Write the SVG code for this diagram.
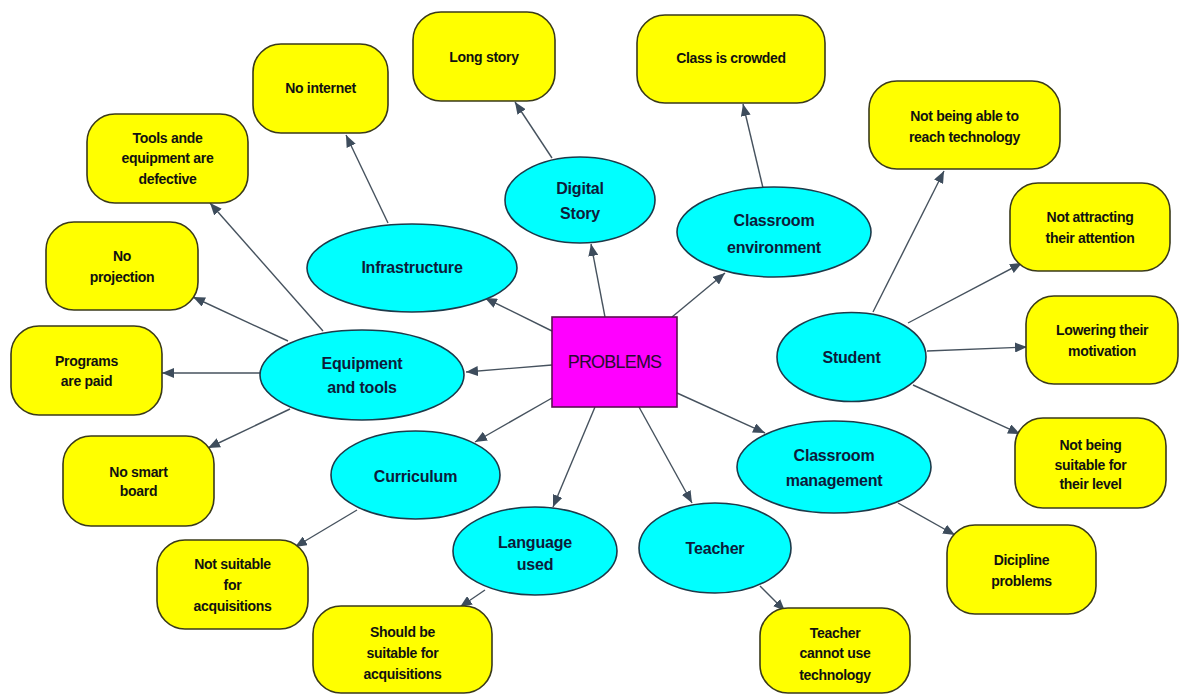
<svg xmlns="http://www.w3.org/2000/svg" width="1179" height="695" viewBox="0 0 1179 695">
<style>
.box{fill:#FFFF00;stroke:#3a3a1a;stroke-width:1.6}
.ell{fill:#00FFFF;stroke:#1d3a4a;stroke-width:1.6}
.core{fill:#FF00FF;stroke:#5a1050;stroke-width:1.6}
.bt{font-family:"Liberation Sans",Arial,sans-serif;font-weight:bold;font-size:14px;fill:#111;text-anchor:middle;letter-spacing:-0.3px}
.et{font-family:"Liberation Sans",Arial,sans-serif;font-weight:bold;font-size:16px;fill:#0d1b3a;text-anchor:middle;letter-spacing:-0.2px}
.ct{font-family:"Liberation Sans",Arial,sans-serif;font-size:18px;fill:#2a0a30;text-anchor:middle;letter-spacing:-0.8px}
.conn line{stroke:#46525e;stroke-width:1.4;marker-end:url(#arr)}
</style>
<defs>
<marker id="arr" viewBox="0 0 12 10" refX="12" refY="5" markerWidth="12" markerHeight="10" markerUnits="userSpaceOnUse" orient="auto">
<path d="M0,0 L12,5 L0,10 z" fill="#3d4c5c"/>
</marker>
</defs>
<rect width="1179" height="695" fill="#ffffff"/>
<g id="connectors" class="conn">
<line x1="552" y1="331" x2="485" y2="298"/>
<line x1="605" y1="317" x2="591" y2="244"/>
<line x1="672" y1="317" x2="725" y2="273"/>
<line x1="552" y1="365" x2="466" y2="372"/>
<line x1="552" y1="398" x2="475" y2="442"/>
<line x1="595" y1="407" x2="553" y2="507"/>
<line x1="639" y1="407" x2="692" y2="503"/>
<line x1="677" y1="393" x2="765" y2="433"/>
<line x1="388" y1="223" x2="346" y2="135"/>
<line x1="552" y1="158" x2="515" y2="102"/>
<line x1="763" y1="188" x2="743" y2="104"/>
<line x1="323" y1="331" x2="210" y2="203"/>
<line x1="288" y1="341" x2="193" y2="297"/>
<line x1="260" y1="373" x2="162" y2="373"/>
<line x1="290" y1="409" x2="208" y2="448"/>
<line x1="357" y1="510" x2="295" y2="547"/>
<line x1="485" y1="590" x2="460" y2="607"/>
<line x1="760" y1="586" x2="785" y2="611"/>
<line x1="898" y1="503" x2="955" y2="535"/>
<line x1="873" y1="312" x2="944" y2="171"/>
<line x1="908" y1="323" x2="1022" y2="263"/>
<line x1="927" y1="351" x2="1027" y2="347"/>
<line x1="913" y1="385" x2="1020" y2="434"/>
</g>
<g id="problems"><rect class="core" x="552" y="317" width="125" height="90"/><text class="ct" x="614.5" y="368">PROBLEMS</text></g>
<g id="digital-story"><ellipse class="ell" cx="580" cy="200" rx="75" ry="43"/><text class="et" x="580" y="194">Digital</text><text class="et" x="580" y="219">Story</text></g>
<g id="classroom-environment"><ellipse class="ell" cx="774" cy="232" rx="97" ry="45"/><text class="et" x="774" y="226">Classroom</text><text class="et" x="774" y="253">environment</text></g>
<g id="infrastructure"><ellipse class="ell" cx="412" cy="268" rx="105" ry="44"/><text class="et" x="412" y="273">Infrastructure</text></g>
<g id="equipment-tools"><ellipse class="ell" cx="362" cy="375" rx="102" ry="45"/><text class="et" x="362" y="369">Equipment</text><text class="et" x="362" y="393">and tools</text></g>
<g id="curriculum"><ellipse class="ell" cx="415.5" cy="475" rx="84.5" ry="44"/><text class="et" x="415.5" y="482">Curriculum</text></g>
<g id="language-used"><ellipse class="ell" cx="535" cy="551" rx="82" ry="44"/><text class="et" x="535" y="548">Language</text><text class="et" x="535" y="570">used</text></g>
<g id="teacher"><ellipse class="ell" cx="715" cy="548" rx="76" ry="45"/><text class="et" x="715" y="554">Teacher</text></g>
<g id="classroom-management"><ellipse class="ell" cx="834" cy="467" rx="97" ry="46"/><text class="et" x="834" y="461">Classroom</text><text class="et" x="834" y="486">management</text></g>
<g id="student"><ellipse class="ell" cx="851.5" cy="357" rx="74.5" ry="44.5"/><text class="et" x="851.5" y="363">Student</text></g>
<g id="no-internet"><rect class="box" x="253" y="44" width="135" height="89" rx="28"/><text class="bt" x="320.5" y="93">No internet</text></g>
<g id="tools-defective"><rect class="box" x="87" y="114" width="161" height="89" rx="28"/><text class="bt" x="167.5" y="143">Tools ande</text><text class="bt" x="167.5" y="163">equipment are</text><text class="bt" x="167.5" y="184">defective</text></g>
<g id="long-story"><rect class="box" x="413" y="12" width="142" height="89" rx="28"/><text class="bt" x="484" y="62">Long story</text></g>
<g id="class-crowded"><rect class="box" x="637" y="15" width="188" height="88" rx="28"/><text class="bt" x="731" y="63">Class is crowded</text></g>
<g id="reach-technology"><rect class="box" x="869" y="81" width="191" height="88" rx="28"/><text class="bt" x="964.5" y="121">Not being able to</text><text class="bt" x="964.5" y="142">reach technology</text></g>
<g id="not-attracting"><rect class="box" x="1010" y="183" width="160" height="88" rx="28"/><text class="bt" x="1090" y="222">Not attracting</text><text class="bt" x="1090" y="243">their attention</text></g>
<g id="no-projection"><rect class="box" x="46" y="222" width="152" height="88" rx="28"/><text class="bt" x="122" y="261">No</text><text class="bt" x="122" y="282">projection</text></g>
<g id="programs-paid"><rect class="box" x="11" y="326" width="151" height="89" rx="28"/><text class="bt" x="86.5" y="366">Programs</text><text class="bt" x="86.5" y="386">are paid</text></g>
<g id="no-smart-board"><rect class="box" x="63" y="436" width="151" height="90" rx="28"/><text class="bt" x="138.5" y="477">No smart</text><text class="bt" x="138.5" y="496">board</text></g>
<g id="lowering-motivation"><rect class="box" x="1026" y="296" width="152" height="88" rx="28"/><text class="bt" x="1102" y="335">Lowering their</text><text class="bt" x="1102" y="356">motivation</text></g>
<g id="not-suitable-level"><rect class="box" x="1015" y="418" width="151" height="90" rx="28"/><text class="bt" x="1090.5" y="450">Not being</text><text class="bt" x="1090.5" y="470">suitable for</text><text class="bt" x="1090.5" y="489">their level</text></g>
<g id="not-suitable-acq"><rect class="box" x="157" y="540" width="151" height="89" rx="28"/><text class="bt" x="232.5" y="569">Not suitable</text><text class="bt" x="232.5" y="590">for</text><text class="bt" x="232.5" y="611">acquisitions</text></g>
<g id="should-be-suitable"><rect class="box" x="313" y="606" width="179" height="87" rx="28"/><text class="bt" x="402.5" y="637">Should be</text><text class="bt" x="402.5" y="658">suitable for</text><text class="bt" x="402.5" y="679">acquisitions</text></g>
<g id="teacher-technology"><rect class="box" x="760" y="608" width="150" height="85" rx="28"/><text class="bt" x="835" y="638">Teacher</text><text class="bt" x="835" y="658">cannot use</text><text class="bt" x="835" y="680">technology</text></g>
<g id="discipline"><rect class="box" x="947" y="525" width="149" height="89" rx="28"/><text class="bt" x="1021.5" y="565">Dicipline</text><text class="bt" x="1021.5" y="586">problems</text></g>
</svg>
